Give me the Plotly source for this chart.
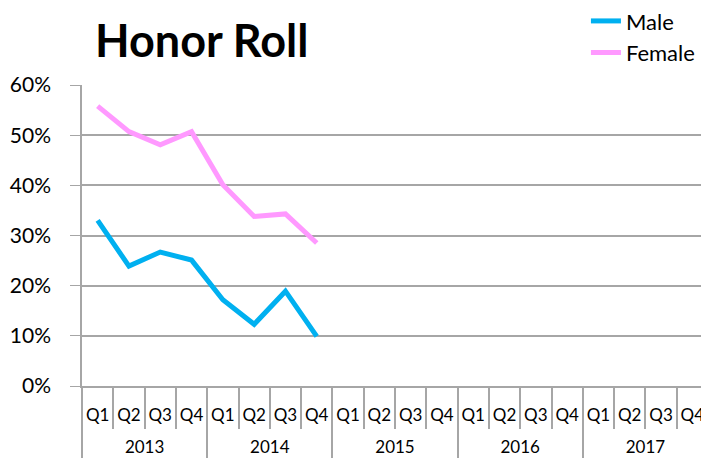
import plotly.graph_objects as go

years = ["2013", "2014", "2015", "2016", "2017"]
quarters = ["Q1", "Q2", "Q3", "Q4"]
male = [0.330, 0.239, 0.267, 0.251, 0.172, 0.123, 0.189, 0.099]
female = [0.558, 0.507, 0.481, 0.507, 0.401, 0.338, 0.343, 0.285]

# year labels sit on a lower row in the reference: prefix a line break for spacing
xyear = ["<br>" + y for y in years for q in quarters]
xq = [q for y in years for q in quarters]
n = len(xq)
male_full = male + [None] * (n - len(male))
female_full = female + [None] * (n - len(female))

fig = go.Figure()
fig.add_trace(go.Scatter(x=[xyear, xq], y=male_full, mode="lines", name="Male",
                         line=dict(color="#00B0F0", width=5)))
fig.add_trace(go.Scatter(x=[xyear, xq], y=female_full, mode="lines", name="Female",
                         line=dict(color="#FF99FF", width=5)))

# page has an 8px body margin, so the figure is laid out 8px smaller
W, H = 701, 458
font = "Lato"
fig.update_layout(
    width=W, height=H,
    margin=dict(l=74, r=1, t=77, b=80, autoexpand=False),
    paper_bgcolor="white", plot_bgcolor="white",
    font=dict(family=font, color="#000000"),
    title=dict(text="<b>Honor Roll</b>", x=87/W, xanchor="left", xref="container",
               y=1-33/H, yanchor="middle", yref="container",
               font=dict(size=45, family=font, color="#000")),
    legend=dict(x=0.805, xanchor="left", y=1.282, yanchor="top", bgcolor="rgba(0,0,0,0)",
                font=dict(size=22, family=font), tracegroupgap=0),
    showlegend=True,
)
fig.update_yaxes(range=[0, 0.6], dtick=0.1, tickformat=".0%", showgrid=True,
                 gridcolor="#A6A6A6", gridwidth=1.5, showline=True, linecolor="#A6A6A6",
                 linewidth=1.5, ticks="outside", ticklen=10, tickcolor="#A6A6A6",
                 ticklabelstandoff=15,
                 tickfont=dict(size=21, family=font), zeroline=False, automargin=False)
fig.update_xaxes(type="multicategory", range=[-0.5, n - 0.5], showgrid=False, showline=True,
                 linecolor="#A6A6A6", linewidth=1.5, ticks="outside", tickson="boundaries",
                 ticklen=41, tickcolor="#A6A6A6", tickwidth=1.5, showdividers=True,
                 dividercolor="#A6A6A6", dividerwidth=1.5, automargin=False, tickangle=0,
                 ticklabelstandoff=13,
                 tickfont=dict(size=17, family=font))

fig.write_html("out.html")
